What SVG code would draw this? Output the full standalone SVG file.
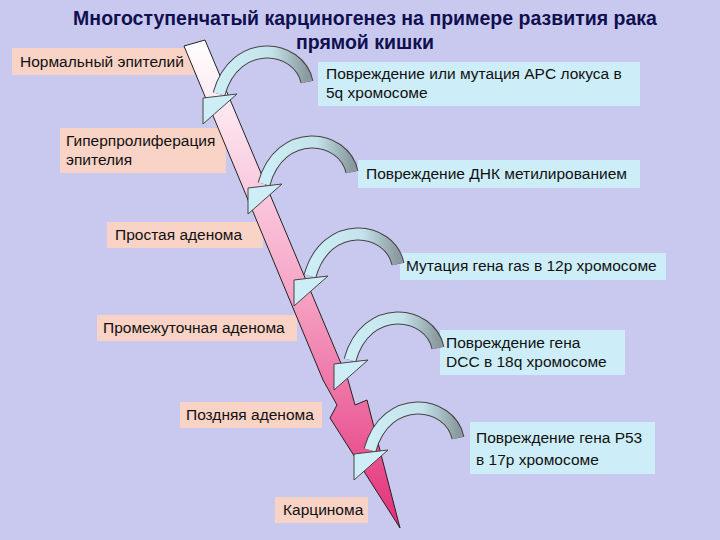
<svg xmlns="http://www.w3.org/2000/svg" width="720" height="540" viewBox="0 0 720 540">
<defs>
<linearGradient id="mg" x1="0" y1="0" x2="0" y2="1"><stop offset="0" stop-color="#ffffff"/><stop offset="0.5" stop-color="#f6a8c8"/><stop offset="1" stop-color="#e42f78"/></linearGradient>
<linearGradient id="cg" x1="0" y1="0" x2="1" y2="0"><stop offset="0" stop-color="#cdeef6"/><stop offset="0.6" stop-color="#c4e2ea"/><stop offset="1" stop-color="#8a9a9e"/></linearGradient>
<g id="ca">
<path d="M0,0 C-8,-38 -72,-46 -88,12" fill="none" stroke="#444" stroke-width="13"/>
<path d="M0,0 C-8,-38 -72,-46 -88,12" fill="none" stroke="url(#cg)" stroke-width="11"/>
<polygon points="-104,16 -70,12 -104,42" fill="#cdeef6" stroke="#444" stroke-width="1"/>
</g>
</defs>
<style>
.t{font-family:"Liberation Sans",Arial,sans-serif;font-size:15.5px;fill:#111}
.l{fill:#f9d3c6}.r{fill:#cdeef9}
.h{font-family:"Liberation Sans",Arial,sans-serif;font-size:19.5px;font-weight:bold;fill:#101050}
</style>
<rect width="720" height="540" fill="#c9c9ef"/>
<g id="title"><text class="h" x="365" y="25" text-anchor="middle">Многоступенчатый карциногенез на примере развития рака</text>
<text class="h" x="365" y="49" text-anchor="middle">прямой кишки</text></g>
<g id="n1"><rect class="l" x="12" y="48" width="182" height="27"/><text class="t" x="20" y="67">Нормальный эпителий</text></g>
<g id="n2"><rect class="l" x="60" y="128" width="166" height="45"/><text class="t" x="66" y="146">Гиперпролиферация</text><text class="t" x="66" y="165">эпителия</text></g>
<g id="n3"><rect class="l" x="107" y="222" width="156" height="26"/><text class="t" x="115" y="240">Простая аденома</text></g>
<g id="n4"><rect class="l" x="97" y="315" width="200" height="26"/><text class="t" x="103" y="333">Промежуточная аденома</text></g>
<g id="n5"><rect class="l" x="180" y="402" width="142" height="26"/><text class="t" x="186" y="420">Поздняя аденома</text></g>
<g id="n6"><rect class="l" x="275" y="497" width="93" height="26"/><text class="t" x="283" y="515">Карцинома</text></g>
<g id="main"><polygon points="184,46 205,40 348,380 355,405 367,400 400,528 330,418 337,405 323,380" fill="url(#mg)" stroke="#222" stroke-width="1"/></g>
<g id="r1"><rect class="r" x="318" y="62" width="322" height="44"/><text class="t" x="326" y="79">Повреждение или мутация  APC локуса в</text><text class="t" x="326" y="98">5q хромосоме</text></g>
<g id="r2"><rect class="r" x="358" y="160" width="282" height="28"/><text class="t" x="366" y="179">Повреждение ДНК метилированием</text></g>
<g id="r3"><rect class="r" x="400" y="253" width="266" height="27"/><text class="t" x="406" y="271">Мутация гена ras в 12p хромосоме</text></g>
<g id="r4"><rect class="r" x="440" y="330" width="185" height="45"/><text class="t" x="446" y="348">Повреждение гена</text><text class="t" x="446" y="367">DCC в 18q хромосоме</text></g>
<g id="r5"><rect class="r" x="470" y="422" width="185" height="52"/><text class="t" x="476" y="443">Повреждение гена Р53</text><text class="t" x="476" y="465">в 17p хромосоме</text></g>
<g id="connectors">
<use href="#ca" transform="translate(307,82)"/>
<use href="#ca" transform="translate(352,172)"/>
<use href="#ca" transform="translate(398,264)"/>
<use href="#ca" transform="translate(438,348)"/>
<use href="#ca" transform="translate(458,438)"/>
</g>
</svg>
